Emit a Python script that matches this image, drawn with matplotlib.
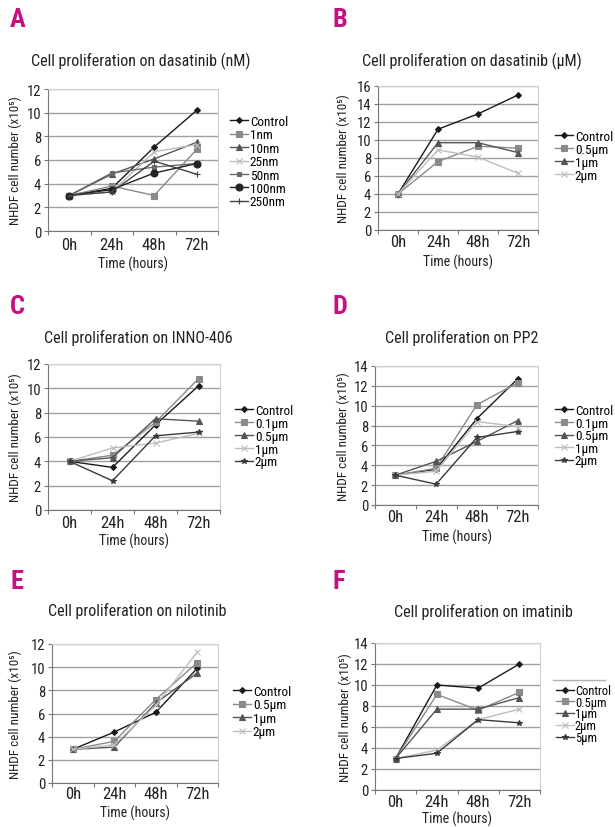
import matplotlib.pyplot as plt
from matplotlib import font_manager as fm
from matplotlib.lines import Line2D

# pick a narrow sans font if one is installed
installed = [(f.name, f.stretch) for f in fm.fontManager.ttflist]
names = {n for n, s in installed}
narrow = None
for cand in ['Liberation Sans Narrow', 'Roboto Condensed', 'Open Sans Condensed',
             'DejaVu Sans Condensed', 'Arial Narrow']:
    if cand in names:
        narrow = cand
        break
if narrow:
    plt.rcParams['font.family'] = [narrow, 'DejaVu Sans']
else:
    plt.rcParams['font.family'] = ['DejaVu Sans']
    if ('DejaVu Sans', 'condensed') in installed:
        plt.rcParams['font.stretch'] = 'condensed'

# Data
times = ['0h', '24h', '48h', '72h']

a_labels = ['Control', '1nm', '10nm', '25nm', '50nm', '100nm', '250nm']
a_control = [3.0, 3.6, 7.1, 10.2]
a_1nm = [3.0, 3.8, 3.0, 6.9]
a_10nm = [3.0, 4.8, 6.1, 7.5]
a_25nm = [3.0, 3.3, 6.7, 7.3]
a_50nm = [3.0, 4.9, 5.4, 5.7]
a_100nm = [3.0, 3.5, 4.9, 5.7]
a_250nm = [3.0, 3.3, 5.9, 4.8]

b_labels = ['Control', '0.5µm', '1µm', '2µm']
b_control = [4.0, 11.2, 12.9, 15.0]
b_05um = [4.0, 7.6, 9.3, 9.1]
b_1um = [4.0, 9.7, 9.7, 8.6]
b_2um = [4.0, 8.9, 8.1, 6.3]

c_labels = ['Control', '0.1µm', '0.5µm', '1µm', '2µm']
c_control = [4.0, 3.5, 7.0, 10.2]
c_01um = [4.0, 4.5, 7.2, 10.8]
c_05um = [4.0, 4.3, 7.5, 7.3]
c_1um = [4.0, 5.1, 5.5, 6.3]
c_2um = [4.0, 2.4, 6.1, 6.4]

d_labels = ['Control', '0.1µm', '0.5µm', '1µm', '2µm']
d_control = [3.0, 3.6, 8.7, 12.7]
d_01um = [3.0, 3.7, 10.1, 12.3]
d_05um = [3.0, 4.4, 6.4, 8.5]
d_1um = [3.0, 3.4, 8.4, 7.9]
d_2um = [3.0, 2.1, 6.8, 7.4]

e_labels = ['Control', '0.5µm', '1µm', '2µm']
e_control = [2.9, 4.4, 6.1, 9.9]
e_05um = [2.9, 3.6, 7.2, 10.4]
e_1um = [2.9, 3.1, 6.9, 9.5]
e_2um = [2.9, 3.3, 6.7, 11.3]

f_labels = ['Control', '0.5µm', '1µm', '2µm', '5µm']
f_control = [3.0, 10.0, 9.7, 12.0]
f_05um = [3.0, 9.1, 7.6, 9.3]
f_1um = [3.0, 7.7, 7.7, 8.8]
f_2um = [3.0, 3.8, 6.7, 7.7]
f_5um = [3.0, 3.5, 6.7, 6.4]

# marker styles (color, marker, size)
st_control = ('#1a1a1a', 'D', 3)
st_square = ('#8a8a8a', 's', 4)
st_tri = ('#555555', '^', 4)
st_x = ('#bdbdbd', 'x', 4)
st_star = ('#3a3a3a', '*', 4)
st_sq2 = ('#6a6a6a', 's', 3)
st_circ = ('#222222', 'o', 5)
st_plus = ('#444444', '+', 5)

W, H = 615, 828
fig = plt.figure(figsize=(W / 100, H / 100), dpi=100)


def px_axes(l, t, r, b):
    return fig.add_axes([l / W, 1 - b / H, (r - l) / W, (b - t) / H])


def panel(box, ymax, series, labels, styles, legend_xy, leg_fs, spacing, tick_y, xlab_y,
          ylab_x):
    l, t, r, b = box
    ax = px_axes(l, t, r, b)
    x = range(len(times))
    for vals, lab, (c, m, s) in zip(series, labels, styles):
        ax.plot(x, vals, color=c, marker=m, markersize=s, linewidth=1.0,
                markeredgewidth=0.8, label=lab)
    ax.set_xlim(-0.5, 3.5)
    ax.set_ylim(0, ymax)
    ax.set_yticks(range(0, ymax + 1, 2))
    ax.tick_params(axis='y', labelsize=10.5, length=3, color='#777777', pad=2,
                   labelcolor='#222222')
    ax.set_xticks([-0.5, 0.5, 1.5, 2.5, 3.5])
    ax.set_xticklabels([])
    ax.tick_params(axis='x', length=3, color='#777777')
    ax.yaxis.grid(True, color='#a0a0a0', linewidth=1.0)
    ax.set_axisbelow(True)
    for side in ['top', 'right']:
        ax.spines[side].set_color('#cfcfcf')
    for side in ['left', 'bottom']:
        ax.spines[side].set_color('#777777')
    # category labels under the axis
    for i, tname in enumerate(times):
        xc = l + (r - l) * (i + 0.5) / 4
        fig.text(xc / W, 1 - tick_y / H, tname, ha='center', va='center', fontsize=12,
                 color='#222222')
    fig.text(((l + r) / 2) / W, 1 - xlab_y / H, 'Time (hours)', ha='center', va='center',
             fontsize=10, color='#222222')
    fig.text(ylab_x / W, 1 - ((t + b) / 2) / H, 'NHDF cell number (x10⁵)', rotation=90,
             ha='center', va='center', fontsize=9.5, color='#222222')
    fig.legend(handles=ax.get_lines(), loc='upper left',
               bbox_to_anchor=(legend_xy[0] / W, 1 - legend_xy[1] / H),
               frameon=False, fontsize=leg_fs, handlelength=1.4, handletextpad=0.1,
               labelspacing=spacing, borderpad=0, borderaxespad=0)
    return ax


panel((48, 90, 218, 232), 12,
      [a_control, a_1nm, a_10nm, a_25nm, a_50nm, a_100nm, a_250nm], a_labels,
      [st_control, st_square, st_tri, st_x, st_sq2, st_circ, st_plus],
      (230, 116), 9.5, 0.03, 245, 264, 15)
panel((378, 87, 538, 231), 16,
      [b_control, b_05um, b_1um, b_2um], b_labels,
      [st_control, st_square, st_tri, st_x],
      (555, 131), 9.5, 0.0, 243, 262, 343)
panel((48, 365, 220, 511), 12,
      [c_control, c_01um, c_05um, c_1um, c_2um], c_labels,
      [st_control, st_square, st_tri, st_x, st_star],
      (235, 405), 9.5, -0.01, 523, 541, 15)
panel((375, 367, 538, 506), 14,
      [d_control, d_01um, d_05um, d_1um, d_2um], d_labels,
      [st_control, st_square, st_tri, st_x, st_star],
      (555, 405), 9.5, -0.03, 518, 537, 343)
panel((52, 645, 218, 784), 12,
      [e_control, e_05um, e_1um, e_2um], e_labels,
      [st_control, st_square, st_tri, st_x],
      (233, 686), 9.5, 0.03, 795, 813, 15)
panel((375, 644, 540, 791), 14,
      [f_control, f_05um, f_1um, f_2um, f_5um], f_labels,
      [st_control, st_square, st_tri, st_x, st_star],
      (556, 685), 9, -0.1, 803, 819, 345)

# stray legend border line seen on panel F
fig.add_artist(Line2D([553 / W, 605 / W], [1 - 681 / H, 1 - 681 / H],
                      color='#b0b0b0', linewidth=1.0))

# Panel letters and titles
letters = ['A', 'B', 'C', 'D', 'E', 'F']
letter_pos = [(10, 20), (333, 20), (10, 307), (333, 307), (10, 582), (333, 582)]
titles = ['Cell proliferation on dasatinib (nM)', 'Cell proliferation on dasatinib (µM)',
          'Cell proliferation on INNO-406', 'Cell proliferation on PP2',
          'Cell proliferation on nilotinib', 'Cell proliferation on imatinib']
title_pos = [(141, 61), (472, 61), (138, 338), (462, 338), (137, 611), (483, 612)]

for let, (lx, ly) in zip(letters, letter_pos):
    fig.text(lx / W, 1 - ly / H, let, ha='left', va='center', fontsize=19,
             fontweight='bold', color='#c4117f')
for tt, (tx, ty) in zip(titles, title_pos):
    fig.text(tx / W, 1 - ty / H, tt, ha='center', va='center', fontsize=11.5,
             color='#222222')

plt.savefig('out.png', dpi=100)
